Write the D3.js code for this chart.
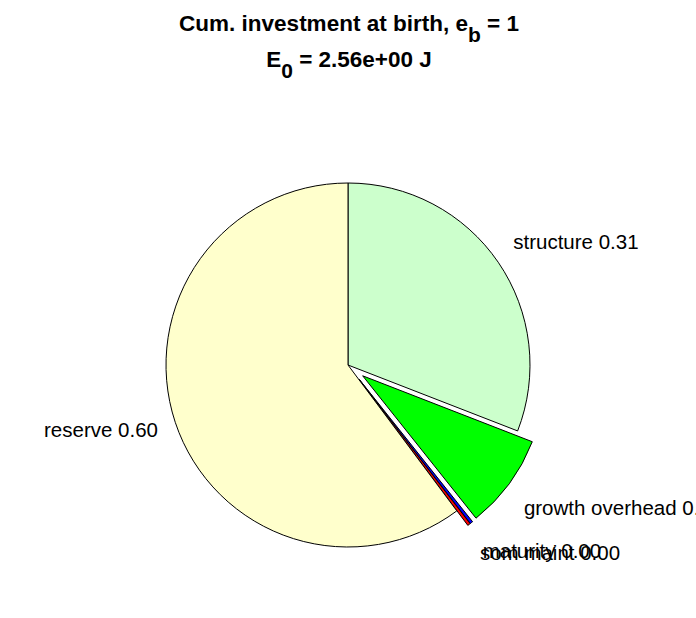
<!DOCTYPE html>
<html>
<head>
<meta charset="utf-8">
<script src="https://cdn.jsdelivr.net/npm/d3@7"></script>
<style>
  html, body { margin: 0; padding: 0; background: #fff; }
  svg { display: block; }
  text { font-family: "Liberation Sans", Arial, Helvetica, sans-serif; fill: #000; }
</style>
</head>
<body>
<svg id="chart" width="696" height="618"></svg>
<script>
// ---- data (clockwise from 12 o'clock) ----
const categories = ["structure", "growth overhead", "maturity", "som maint", "reserve"];
const values     = [0.309, 0.084, 0.0025, 0.0025, 0.602];
const exploded   = [false, true, true, true, false];
const colors     = ["#ccffcc", "#00ff00", "#0000ff", "#ff0000", "#ffffcc"];
const titleMain  = "Cum. investment at birth, e";
const titleSub1  = "b";
const titleTail  = " = 1";
const subMain    = "E";
const subSub     = "0";
const subTail    = " = 2.56e+00 J";

const W = 696, H = 618;
const cx = 348, cy = 365, r = 182;
const explode = 0.1 * r;

const svg = d3.select("#chart");

// title
const t1 = svg.append("text").attr("x", cx + 1).attr("y", 31)
  .attr("text-anchor", "middle").attr("font-size", 22.5).attr("font-weight", "bold");
t1.append("tspan").text(titleMain);
t1.append("tspan").attr("dy", 11).attr("font-size", 21).text(titleSub1);
t1.append("tspan").attr("dy", -11).text(titleTail);

const t2 = svg.append("text").attr("x", cx + 1).attr("y", 67)
  .attr("text-anchor", "middle").attr("font-size", 22.5).attr("font-weight", "bold");
t2.append("tspan").text(subMain);
t2.append("tspan").attr("dy", 11).attr("font-size", 21).text(subSub);
t2.append("tspan").attr("dy", -11).text(subTail);

// pie
const data = categories.map((c, i) => ({ name: c, value: values[i], ex: exploded[i], color: colors[i] }));
const pie = d3.pie().value(d => d.value).sort(null).startAngle(0).endAngle(2 * Math.PI);
const arcs = pie(data);
const arc = d3.arc().innerRadius(0).outerRadius(r);

const g = svg.append("g").attr("transform", `translate(${cx},${cy})`);

arcs.forEach(a => {
  const mid = (a.startAngle + a.endAngle) / 2;
  const off = a.data.ex ? explode : 0;
  a.ox = off * Math.sin(mid);
  a.oy = -off * Math.cos(mid);
  a.mid = mid;
});

g.selectAll("path.slice").data(arcs).join("path")
  .attr("class", "slice")
  .attr("transform", d => `translate(${d.ox},${d.oy})`)
  .attr("d", arc)
  .attr("fill", d => d.data.color)
  .attr("stroke", "#000")
  .attr("stroke-width", 1)
  .attr("stroke-linejoin", "miter");

// labels: anchored at 1.1 r along the bisector; vertical alignment
// bottom (upper part), middle (near horizontal) or top (lower part)
const lr = 1.1 * r;
g.selectAll("text.lbl").data(arcs).join("text")
  .attr("class", "lbl")
  .attr("font-size", 20.5)
  .attr("x", d => d.ox + lr * Math.sin(d.mid))
  .attr("y", d => {
    const c = -Math.cos(d.mid);
    const base = c > 0.4 ? 21 : (c < -0.4 ? -3 : 9);
    return d.oy + lr * c + base;
  })
  .attr("text-anchor", d => Math.sin(d.mid) >= 0 ? "start" : "end")
  .text(d => `${d.data.name} ${d.data.value.toFixed(2)}`);
</script>
</body>
</html>
